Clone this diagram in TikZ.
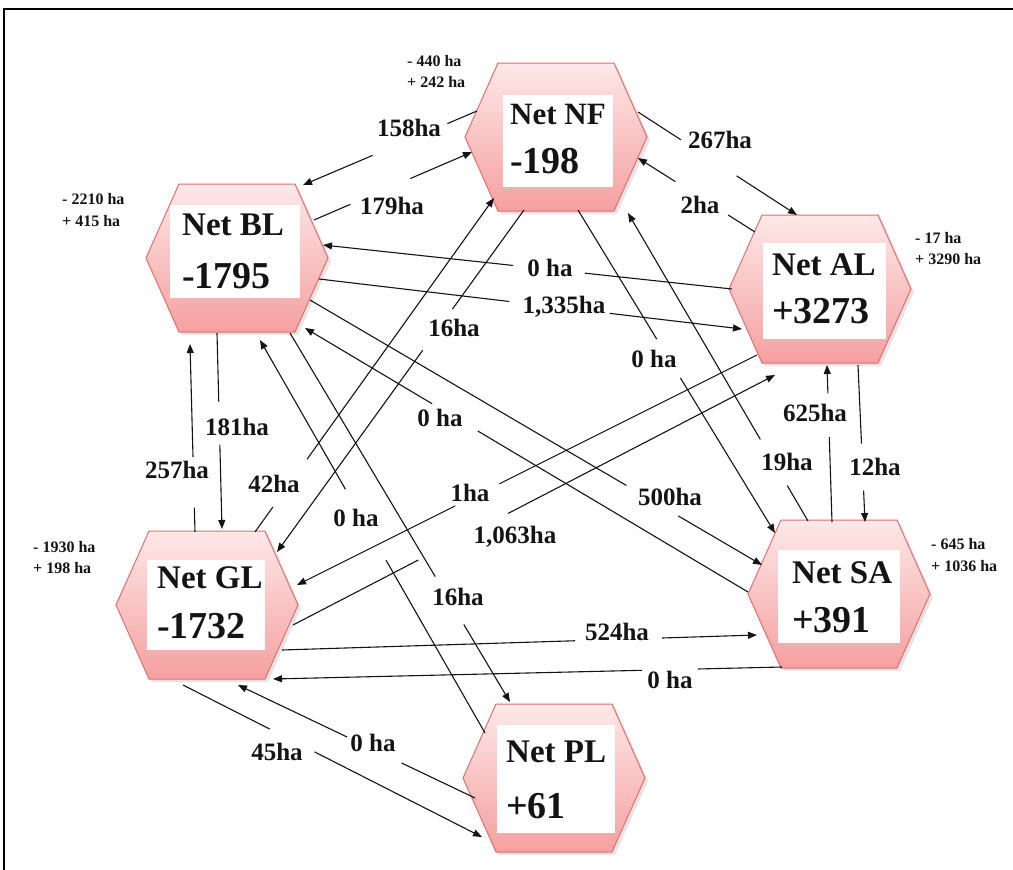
\documentclass[tikz,border=0pt]{standalone}
\usepackage{fontspec}
\setmainfont{Liberation Serif}
\usetikzlibrary{calc,arrows.meta}
\definecolor{hexedge}{RGB}{224,112,112}
\definecolor{hextop}{RGB}{254,232,232}
\definecolor{hexbot}{RGB}{245,160,160}
\definecolor{ink}{RGB}{20,20,20}
\tikzset{
 conn/.style={line width=1.1pt, draw=ink},
 arr/.style={-{Triangle[length=9pt,width=7pt]}},
 lab/.style={font=\fontsize{25}{28}\selectfont\bfseries, inner sep=0pt, text=ink},
 ann/.style={font=\fontsize{16}{18}\selectfont\bfseries, inner sep=0pt, anchor=base west, text=ink},
 nettxt/.style={font=\fontsize{33}{38}\selectfont\bfseries, inner sep=0pt, anchor=base west, text=ink},
 numtxt/.style={font=\fontsize{38}{42}\selectfont\bfseries, inner sep=0pt, anchor=base west, text=ink},
}
\newcommand\hexat[7]{%
 \coordinate (#1) at (#2,#3);
 \fill[black!30, opacity=.35] ($(#1)+(-88,3)$) -- ($(#1)+(-55,-71)$) -- ($(#1)+(61,-71)$) -- ($(#1)+(94,3)$) -- ($(#1)+(61,77)$) -- ($(#1)+(-55,77)$) -- cycle;
 \shade[top color=hextop, bottom color=hexbot, draw=hexedge, line width=1pt] ($(#1)+(-91,0)$) -- ($(#1)+(-58,-74)$) -- ($(#1)+(58,-74)$) -- ($(#1)+(91,0)$) -- ($(#1)+(58,74)$) -- ($(#1)+(-58,74)$) -- cycle;
 \fill[white] ($(#1)+(#4,#5)$) rectangle ($(#1)+(#6,#7)$);
}
\newcommand\edgeab[8]{%
 \draw[conn] (#2) -- ($(#2)!#4!(#3)$);
 \draw[conn,arr] ($(#2)!#5!(#3)$) -- (#3);
 \node[lab] (#1) at (#6,#7) {#8};}
\begin{document}
\begin{tikzpicture}[x=1pt,y=-1pt]
\useasboundingbox (0,0) rectangle (1013,870);
\fill[white] (0,0) rectangle (1013,870);
\draw[line width=1.6pt] (4,870) -- (4,9) -- (1013,9);

% hexagons
\hexat{BL}{237}{258}{-67}{-53}{63}{40}
\hexat{NF}{556}{137}{-53}{-42}{57}{50}
\hexat{AL}{820}{289}{-57}{-46}{66}{50}
\hexat{GL}{207}{605}{-60}{-45}{58}{45}
\hexat{SA}{839}{594}{-61}{-44}{61}{49}
\hexat{PL}{554}{778}{-57}{-53}{61}{55}

\node[nettxt] (blname) at (182,235) {Net BL};
\node[numtxt] (blnum) at (182,288) {-1795};
\node[nettxt,font=\fontsize{31}{36}\selectfont\bfseries] (nfname) at (510,124) {Net NF};
\node[numtxt] (nfnum) at (510,173) {-198};
\node[nettxt] (alname) at (772,275) {Net AL};
\node[numtxt] (alnum) at (772,323) {+3273};
\node[nettxt] (glname) at (157,588) {Net GL};
\node[numtxt] (glnum) at (157,638) {-1732};
\node[nettxt] (saname) at (792,583) {Net SA};
\node[numtxt] (sanum) at (792,632) {+391};
\node[nettxt] (plname) at (506,762) {Net PL};
\node[numtxt] (plnum) at (506,818) {+61};

% side annotations
\node[ann] (nfa1) at (407,66) {- 440 ha};
\node[ann] (nfa2) at (407,87) {+ 242 ha};
\node[ann] (bla1) at (62,204) {- 2210 ha};
\node[ann] (bla2) at (62,226) {+ 415 ha};
\node[ann] (ala1) at (915,243) {- 17 ha};
\node[ann] (ala2) at (915,264) {+ 3290 ha};
\node[ann] (gla1) at (33,552) {- 1930 ha};
\node[ann] (gla2) at (33,573) {+ 198 ha};
\node[ann] (saa1) at (931,549) {- 645 ha};
\node[ann] (saa2) at (931,571) {+ 1036 ha};

% connector end points
\coordinate (s1) at ($(NF)+(-79,-26)$); \coordinate (e1) at ($(BL)+(66,-73)$);
\coordinate (s2) at ($(BL)+(77,-38)$);  \coordinate (e2) at ($(NF)+(-84,15)$);
\coordinate (s3) at ($(NF)+(82,-25)$);  \coordinate (e3) at ($(AL)+(-23,-74)$);
\coordinate (s4) at ($(AL)+(-65,-57)$); \coordinate (e4) at ($(NF)+(82,21)$);
\coordinate (s5) at ($(AL)+(-88,0)$);   \coordinate (e5) at ($(BL)+(86,-13)$);
\coordinate (s6) at ($(BL)+(82,21)$);   \coordinate (e6) at ($(AL)+(-78,40)$);
\coordinate (s7) at ($(GL)+(48,-73)$);  \coordinate (e7) at ($(NF)+(-62,61)$);
\coordinate (s8) at ($(NF)+(-32,73)$);  \coordinate (e8) at ($(GL)+(70,-53)$);
\coordinate (s9) at ($(BL)+(-20,75)$);  \coordinate (e9) at ($(GL)+(15,-76)$);
\coordinate (s10) at ($(GL)+(-12,-73)$); \coordinate (e10) at ($(BL)+(-47,86)$);
\coordinate (s11) at ($(PL)+(-69,-45)$); \coordinate (e11) at ($(BL)+(23,82)$);
\coordinate (s12) at ($(BL)+(53,75)$);  \coordinate (e12) at ($(PL)+(-44,-76)$);
\coordinate (s13) at ($(BL)+(73,42)$);  \coordinate (e13) at ($(SA)+(-77,-29)$);
\coordinate (s14) at ($(SA)+(-91,-2)$); \coordinate (e14) at ($(BL)+(68,70)$);
\coordinate (s15) at ($(AL)+(-63,66)$); \coordinate (e15) at ($(GL)+(90,-20)$);
\coordinate (s16) at ($(GL)+(86,20)$);  \coordinate (e16) at ($(AL)+(-45,86)$);
\coordinate (s17) at ($(AL)+(38,76)$);  \coordinate (e17) at ($(SA)+(26,-72)$);
\coordinate (s18) at ($(SA)+(-7,-72)$); \coordinate (e18) at ($(AL)+(7,76)$);
\coordinate (s19) at ($(SA)+(-31,-73)$); \coordinate (e19) at ($(NF)+(72,76)$);
\coordinate (s20) at ($(NF)+(22,73)$);  \coordinate (e20) at ($(SA)+(-64,-61)$);
\coordinate (s21) at ($(GL)+(75,45)$);  \coordinate (e21) at ($(SA)+(-82,41)$);
\coordinate (s22) at ($(SA)+(-57,73)$); \coordinate (e22) at ($(GL)+(66,74)$);
\coordinate (s23) at ($(GL)+(-24,80)$); \coordinate (e23) at ($(PL)+(-72,59)$);
\coordinate (s24) at ($(PL)+(-79,20)$); \coordinate (e24) at ($(GL)+(31,80)$);

% connectors
\edgeab{l1}{s1}{e1}{0.17}{0.6}{409}{128}{158ha}
\edgeab{l2}{s2}{e2}{0.23}{0.61}{392}{206}{179ha}
\edgeab{l3}{s3}{e3}{0.27}{0.62}{720}{140}{267ha}
\edgeab{l4}{s4}{e4}{0.23}{0.68}{700}{205}{2ha}
\edgeab{l5}{s5}{e5}{0.36}{0.535}{550}{268}{0 ha}
\edgeab{l6}{s6}{e6}{0.45}{0.687}{564}{307}{1,335ha}
\edgeab{l7}{s7}{e7}{0.075}{0.218}{274}{484}{42ha}
\edgeab{l8}{s8}{e8}{0.29}{0.41}{454}{328}{16ha}
\edgeab{l9}{s9}{e9}{0.35}{0.57}{237}{427}{181ha}
\edgeab{l10}{s10}{e10}{0.13}{0.40}{177}{470}{257ha}
\edgeab{l11}{s11}{e11}{0.44}{0.62}{356}{518}{0 ha}
\edgeab{l12}{s12}{e12}{0.66}{0.79}{458}{597}{16ha}
\edgeab{l13}{s13}{e13}{0.70}{0.815}{670}{497}{500ha}
\edgeab{l14}{s14}{e14}{0.61}{0.713}{440}{418}{0 ha}
\edgeab{l15}{s15}{e15}{0.56}{0.656}{470}{493}{1ha}
\edgeab{l16}{s16}{e16}{0.26}{0.446}{515}{537}{1,063ha}
\edgeab{l17}{s17}{e17}{0.5}{0.8}{875}{467}{12ha}
\edgeab{l18}{s18}{e18}{0.54}{0.82}{815}{413}{625ha}
\edgeab{l19}{s19}{e19}{0.115}{0.265}{787}{462}{19ha}
\edgeab{l20}{s20}{e20}{0.40}{0.52}{654}{359}{0 ha}
\edgeab{l21}{s21}{e21}{0.617}{0.8}{617}{632}{524ha}
\edgeab{l22}{s22}{e22}{0.165}{0.275}{670}{680}{0 ha}
\edgeab{l23}{s23}{e23}{0.29}{0.44}{277}{752}{45ha}
\edgeab{l24}{s24}{e24}{0.31}{0.54}{373}{743}{0 ha}
\end{tikzpicture}
\end{document}
